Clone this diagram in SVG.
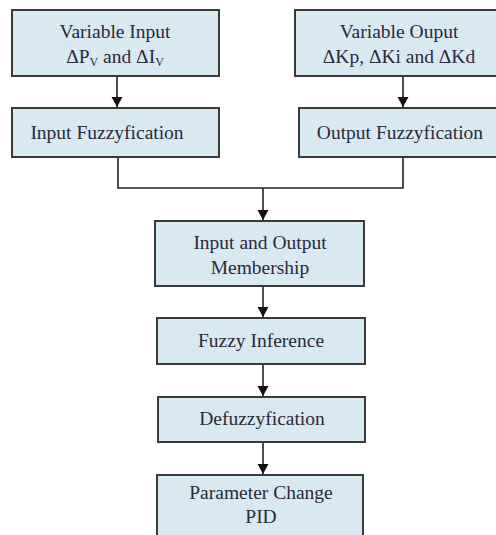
<svg xmlns="http://www.w3.org/2000/svg" width="496" height="535" viewBox="0 0 496 535">
<style>
.box{fill:#d8e9f1;stroke:#3a3a3a;stroke-width:2}
.t{font-family:"Liberation Serif","Times New Roman",serif;font-size:19.5px;fill:#2a2a3a;text-anchor:middle}
.s{font-size:12px}
.c{fill:none;stroke:#222;stroke-width:1.6}
</style>
<defs>
<marker id="ah" markerWidth="12" markerHeight="12" refX="10" refY="6" orient="auto" markerUnits="userSpaceOnUse">
<path d="M0,0.5 L10,6 L0,11.5 z" fill="#111"/>
</marker>
</defs>
<rect width="496" height="535" fill="#fff"/>
<g id="connectors">
<line class="c" x1="117" y1="76" x2="117" y2="107" marker-end="url(#ah)"/>
<line class="c" x1="403" y1="76" x2="403" y2="107" marker-end="url(#ah)"/>
<polyline class="c" points="118,157 118,188 403,188 403,157"/>
<line class="c" x1="263" y1="188" x2="263" y2="220" marker-end="url(#ah)"/>
<line class="c" x1="263" y1="286" x2="263" y2="317" marker-end="url(#ah)"/>
<line class="c" x1="263" y1="364" x2="263" y2="396" marker-end="url(#ah)"/>
<line class="c" x1="263" y1="442" x2="263" y2="474" marker-end="url(#ah)"/>
</g>
<g id="n1">
<rect class="box" x="12" y="10" width="207" height="66"/>
<text class="t" x="115" y="38">Variable Input</text>
<text class="t" x="115" y="63">ΔP<tspan class="s" dy="3">V</tspan><tspan dy="-3"> and ΔI</tspan><tspan class="s" dy="3">V</tspan></text>
</g>
<g id="n2">
<rect class="box" x="295" y="10" width="205" height="66"/>
<text class="t" x="399" y="38">Variable Ouput</text>
<text class="t" x="399" y="63">ΔKp, ΔKi and ΔKd</text>
</g>
<g id="n3">
<rect class="box" x="12" y="108" width="207" height="49"/>
<text class="t" x="107" y="139">Input Fuzzyfication</text>
</g>
<g id="n4">
<rect class="box" x="299" y="108" width="201" height="49"/>
<text class="t" x="400" y="139">Output Fuzzyfication</text>
</g>
<g id="n5">
<rect class="box" x="155" y="221" width="209" height="65"/>
<text class="t" x="260" y="249">Input and Output</text>
<text class="t" x="260" y="274">Membership</text>
</g>
<g id="n6">
<rect class="box" x="157" y="318" width="208" height="46"/>
<text class="t" x="261" y="347">Fuzzy Inference</text>
</g>
<g id="n7">
<rect class="box" x="158" y="397" width="207" height="45"/>
<text class="t" x="262" y="425">Defuzzyfication</text>
</g>
<g id="n8">
<rect class="box" x="157" y="475" width="206" height="70"/>
<text class="t" x="261" y="499">Parameter Change</text>
<text class="t" x="261" y="523">PID</text>
</g>
</svg>
